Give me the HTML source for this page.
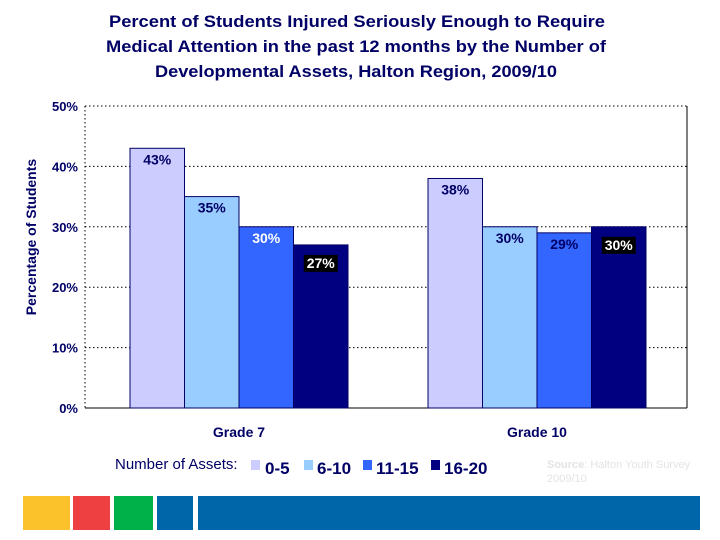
<!DOCTYPE html>
<html><head><meta charset="utf-8"><style>
body{margin:0;background:#fff;}
svg{display:block;font-family:"Liberation Sans",Arial,sans-serif;}
</style></head><body>
<svg id="chart" width="720" height="540" viewBox="0 0 720 540">
<g fill="#000066" font-weight="bold" font-size="17" text-anchor="middle">
<text x="357" y="27" textLength="496" lengthAdjust="spacingAndGlyphs">Percent of Students Injured Seriously Enough to Require</text>
<text x="356" y="52" textLength="500" lengthAdjust="spacingAndGlyphs">Medical Attention in the past 12 months by the Number of</text>
<text x="356" y="77" textLength="402" lengthAdjust="spacingAndGlyphs">Developmental Assets, Halton Region, 2009/10</text>
</g>
<text transform="translate(36,237) rotate(-90)" text-anchor="middle" font-size="14" font-weight="bold" fill="#000066">Percentage of Students</text>
<g id="grid"></g>
<g id="bars"></g>
<g id="labels"></g>
<g>
<text x="115" y="469" font-size="15" fill="#000066">Number of Assets:</text>
<rect x="251" y="460" width="9" height="10" fill="#ccccff"/><text x="265" y="474" font-size="17" font-weight="bold" fill="#000066">0-5</text>
<rect x="304" y="460" width="9" height="10" fill="#99ccff"/><text x="317" y="474" font-size="17" font-weight="bold" fill="#000066">6-10</text>
<rect x="363" y="460" width="9" height="10" fill="#3366ff"/><text x="376" y="474" font-size="17" font-weight="bold" fill="#000066">11-15</text>
<rect x="431" y="460" width="9" height="10" fill="#000080"/><text x="444" y="474" font-size="17" font-weight="bold" fill="#000066">16-20</text>
</g>
<g font-size="11" fill="#e4e4e4">
<text x="547" y="468"><tspan font-weight="bold">Source</tspan>: Halton Youth Survey</text>
<text x="547" y="482">2009/10</text>
</g>
<g>
<rect x="23" y="496" width="47" height="34" fill="#fcc22c"/>
<rect x="73" y="496" width="37" height="34" fill="#ee4040"/>
<rect x="114" y="496" width="39" height="34" fill="#00b048"/>
<rect x="157" y="496" width="36" height="34" fill="#0066aa"/>
<rect x="198" y="496" width="502" height="34" fill="#0066aa"/>
</g>
</svg>
<script>
const categories=["Grade 7","Grade 10"];
const seriesNames=["0-5","6-10","11-15","16-20"];
const s0=[43,38];
const s1=[35,30];
const s2=[30,29];
const s3=[27,30];
const yTicks=[0,10,20,30,40,50];
const series=[s0,s1,s2,s3];
const colors=["#ccccff","#99ccff","#3366ff","#000080"];
const L=85,R=687,T=106,B=408;
const y=v=>B-(B-T)*v/50;
const groupW=298;
const gc=g=>L+5+groupW*(g+0.5);
const bw=54.5;
const bx=(g,i)=>gc(g)-bw*2+bw*i;
const NS="http://www.w3.org/2000/svg";
function mk(tag,attrs,parent,txt){const e=document.createElementNS(NS,tag);for(const k in attrs)e.setAttribute(k,attrs[k]);if(txt!==undefined)e.textContent=txt;parent.appendChild(e);return e;}
const grid=document.getElementById('grid'),bars=document.getElementById('bars'),labels=document.getElementById('labels');
yTicks.forEach(t=>{
 const l=mk('line',{x1:L,x2:R,y1:y(t),y2:y(t),stroke:'#000','stroke-width':1,'stroke-dasharray':'1.5,2.5'},grid);
 
 
 const tx=mk('text',{x:78,y:y(t)+5,'text-anchor':'end','font-size':13,'font-weight':'bold',fill:'#000066'},grid,t+'%');
 
 
});
mk('line',{x1:L,x2:L,y1:T,y2:B,stroke:'#000','stroke-dasharray':'1.5,2.5'},grid);
mk('line',{x1:R,x2:R,y1:T,y2:B,stroke:'#000'},grid);
mk('line',{x1:L,x2:R,y1:B,y2:B,stroke:'#000'},grid);
categories.forEach((c,g)=>{
 const tx=mk('text',{x:gc(g),y:437,'text-anchor':'middle','font-size':14,'font-weight':'bold',fill:'#000066'},grid,c);
 
 
 series.forEach((s,i)=>{
  const v=s[g],x=bx(g,i);
  const r=mk('rect',{x:x,y:y(v),width:bw,height:B-y(v),fill:colors[i],stroke:'#000066','stroke-width':1},bars);
  
  
  const ly=y(v)+(i===3?23:16);
  if(i===3){const bg=mk('rect',{x:x+bw/2-17,y:ly-13,width:34,height:17,fill:'#000'},labels);
   
   }
  const white=(i===3)||(i===2&&g===0);
  const lt=mk('text',{x:x+bw/2,y:ly,'text-anchor':'middle','font-size':14,'font-weight':'bold',fill:white?'#fff':'#000066'},labels,v+'%');
  
  
 });
});
</script>
</body></html>
